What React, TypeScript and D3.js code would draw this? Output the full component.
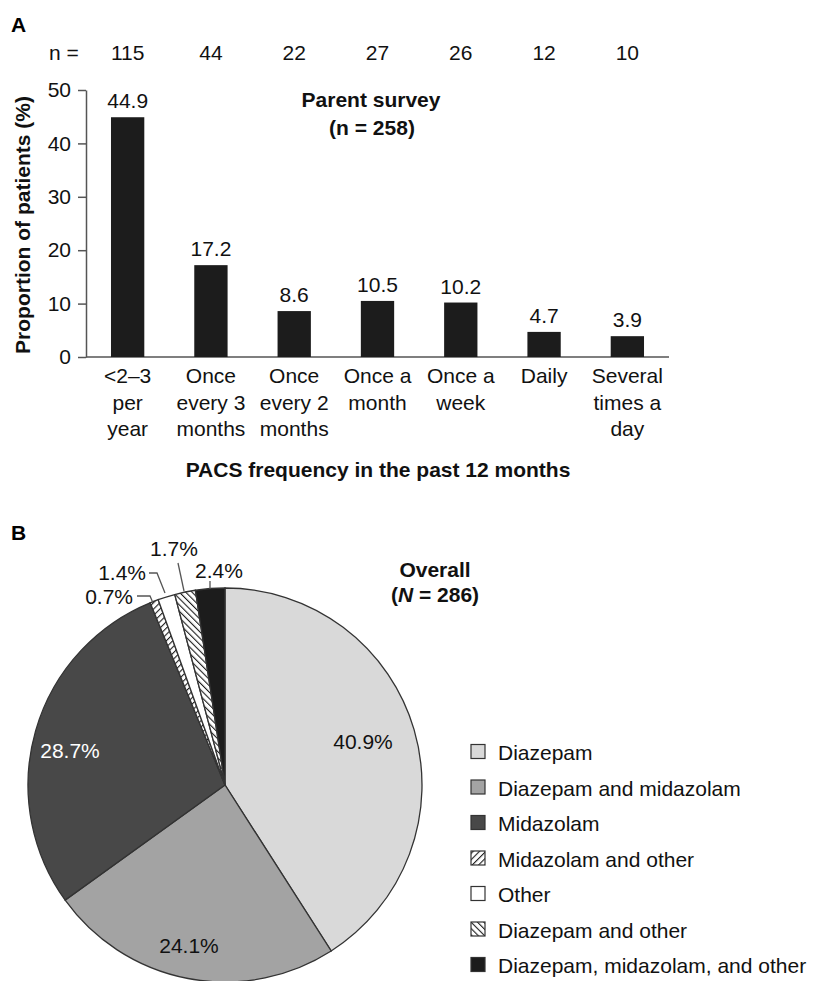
import React, { useEffect, useRef } from 'react';
import * as d3 from 'd3';

// panel A data
const categories = ['<2–3 per year', 'Once every 3 months', 'Once every 2 months', 'Once a month', 'Once a week', 'Daily', 'Several times a day'];
const categoryLines = [['<2–3', 'per', 'year'], ['Once', 'every 3', 'months'], ['Once', 'every 2', 'months'], ['Once a', 'month'], ['Once a', 'week'], ['Daily'], ['Several', 'times a', 'day']];
const proportions = [44.9, 17.2, 8.6, 10.5, 10.2, 4.7, 3.9];
const counts = [115, 44, 22, 27, 26, 12, 10];
const yTicks = [0, 10, 20, 30, 40, 50];

// panel B data
const drugs = ['Diazepam', 'Diazepam and midazolam', 'Midazolam', 'Midazolam and other', 'Other', 'Diazepam and other', 'Diazepam, midazolam, and other'];
const shares = [40.9, 24.1, 28.7, 0.7, 1.4, 1.7, 2.4];
const fills = ['#d9d9d9', '#a3a3a3', '#484848', 'url(#fwd)', '#ffffff', 'url(#bwd)', '#1c1c1c'];

const FONT = '"Liberation Sans", Arial, sans-serif';
const FS = 21;

const App = () => {
  const ref = useRef<SVGSVGElement>(null);

  useEffect(() => {
    const svg = d3.select(ref.current);
    svg.selectAll('*').remove();
    svg.style('font-family', FONT);

    // patterns for hatched slices
    const defs = svg.append('defs');
    const addHatch = (id: string, angle: number) => {
      const p = defs.append('pattern')
        .attr('id', id)
        .attr('patternUnits', 'userSpaceOnUse')
        .attr('width', 4.5)
        .attr('height', 4.5)
        .attr('patternTransform', `rotate(${angle})`);
      p.append('rect').attr('width', 4.5).attr('height', 4.5).attr('fill', '#fff');
      p.append('line').attr('x1', 0).attr('y1', 0).attr('x2', 0).attr('y2', 4.5)
        .attr('stroke', '#1c1c1c').attr('stroke-width', 2.2);
    };
    addHatch('fwd', 45);
    addHatch('bwd', -45);

    // ---------- panel A ----------
    svg.append('text').attr('x', 11).attr('y', 32).attr('font-size', FS).attr('font-weight', 'bold').text('A');

    const x = d3.scaleBand()
      .domain(categories)
      .range([86, 669])
      .paddingInner(0.6)
      .paddingOuter(0.3);

    const y = d3.scaleLinear()
      .domain([0, 50])
      .range([357, 90]);

    const yAxis = d3.axisLeft(y).tickValues(yTicks).tickSize(8).tickSizeOuter(0);
    const yAxisGroup = svg.append('g').attr('transform', 'translate(86,0)').call(yAxis);
    yAxisGroup.select('.domain').attr('stroke', '#555').attr('stroke-width', 1.5);
    yAxisGroup.selectAll('.tick line').attr('stroke', '#555').attr('stroke-width', 1.5);
    yAxisGroup.selectAll('.tick text')
      .attr('font-size', FS).attr('font-family', FONT).attr('fill', '#111').attr('x', -15);

    svg.append('line')
      .attr('x1', 86).attr('x2', 669).attr('y1', y(0)).attr('y2', y(0))
      .attr('stroke', '#555').attr('stroke-width', 1.5);

    svg.selectAll('rect.bar')
      .data(proportions)
      .enter()
      .append('rect')
      .attr('class', 'bar')
      .attr('x', (d, i) => x(categories[i]) as number)
      .attr('y', d => y(d))
      .attr('width', x.bandwidth())
      .attr('height', d => y(0) - y(d))
      .attr('fill', '#1c1c1c');

    const cx = (i: number) => (x(categories[i]) as number) + x.bandwidth() / 2;

    svg.selectAll('text.val')
      .data(proportions)
      .enter()
      .append('text')
      .attr('class', 'val')
      .attr('x', (d, i) => cx(i))
      .attr('y', d => y(d) - 9)
      .attr('text-anchor', 'middle')
      .attr('font-size', FS)
      .attr('fill', '#111')
      .text(d => d.toFixed(1));

    svg.append('text').attr('x', 49).attr('y', 60).attr('font-size', FS).attr('fill', '#111').text('n =');
    svg.selectAll('text.count')
      .data(counts)
      .enter()
      .append('text')
      .attr('class', 'count')
      .attr('x', (d, i) => cx(i))
      .attr('y', 60)
      .attr('text-anchor', 'middle')
      .attr('font-size', FS)
      .attr('fill', '#111')
      .text(d => d);

    categoryLines.forEach((lines, i) => {
      lines.forEach((ln, j) => {
        svg.append('text')
          .attr('x', cx(i))
          .attr('y', 383 + j * 26.5)
          .attr('text-anchor', 'middle')
          .attr('font-size', FS)
          .attr('fill', '#111')
          .text(ln);
      });
    });

    svg.append('text')
      .attr('transform', 'translate(30,225) rotate(-90)')
      .attr('text-anchor', 'middle')
      .attr('font-size', FS)
      .attr('font-weight', 'bold')
      .attr('fill', '#111')
      .text('Proportion of patients (%)');

    svg.append('text').attr('x', 378).attr('y', 477).attr('text-anchor', 'middle')
      .attr('font-size', FS).attr('font-weight', 'bold').attr('fill', '#111')
      .text('PACS frequency in the past 12 months');

    svg.append('text').attr('x', 371).attr('y', 107).attr('text-anchor', 'middle')
      .attr('font-size', FS).attr('font-weight', 'bold').attr('fill', '#111').text('Parent survey');
    svg.append('text').attr('x', 372).attr('y', 135).attr('text-anchor', 'middle')
      .attr('font-size', FS).attr('font-weight', 'bold').attr('fill', '#111').text('(n = 258)');

    // ---------- panel B ----------
    svg.append('text').attr('x', 11).attr('y', 540).attr('font-size', FS).attr('font-weight', 'bold').text('B');

    const pcx = 225, pcy = 785, r = 197;
    const pie = d3.pie<number>().sort(null).value(d => d);
    const arcs = pie(shares);
    const arc = d3.arc<d3.PieArcDatum<number>>().innerRadius(0).outerRadius(r);

    const pg = svg.append('g').attr('transform', `translate(${pcx},${pcy})`);
    pg.selectAll('path')
      .data(arcs)
      .enter()
      .append('path')
      .attr('d', arc)
      .attr('fill', (d, i) => fills[i])
      .attr('stroke', '#333')
      .attr('stroke-width', 1.3);

    // inner labels for the big slices
    const inner = [
      { i: 0, x: 363, y: 749, c: '#111' },
      { i: 2, x: 70, y: 758, c: '#fff' },
      { i: 1, x: 189, y: 953, c: '#111' },
    ];
    inner.forEach(l => {
      svg.append('text').attr('x', l.x).attr('y', l.y).attr('text-anchor', 'middle')
        .attr('font-size', FS).attr('fill', l.c).text(`${shares[l.i]}%`);
    });

    // small slices: outside labels with leader lines
    const outer = [
      { i: 3, tx: 133, ty: 604, pts: [[137, 596], [150, 596], [153, 603]] },
      { i: 4, tx: 146, ty: 580, pts: [[149, 573], [157, 573], [165, 593]] },
      { i: 5, tx: 174, ty: 556, pts: [[178, 563], [184, 591]] },
      { i: 6, tx: 219, ty: 578, pts: [[210, 581], [210, 589]] },
    ];
    outer.forEach(l => {
      svg.append('path')
        .attr('d', d3.line()(l.pts as [number, number][]))
        .attr('fill', 'none').attr('stroke', '#555').attr('stroke-width', 1.3);
      svg.append('text').attr('x', l.tx).attr('y', l.ty)
        .attr('text-anchor', l.i === 5 || l.i === 6 ? 'middle' : 'end')
        .attr('font-size', FS).attr('fill', '#111').text(`${shares[l.i]}%`);
    });

    svg.append('text').attr('x', 435).attr('y', 577).attr('text-anchor', 'middle')
      .attr('font-size', FS).attr('font-weight', 'bold').attr('fill', '#111').text('Overall');
    const nt = svg.append('text').attr('x', 435).attr('y', 602).attr('text-anchor', 'middle')
      .attr('font-size', FS).attr('font-weight', 'bold').attr('fill', '#111');
    nt.append('tspan').text('(');
    nt.append('tspan').attr('font-style', 'italic').text('N');
    nt.append('tspan').text(' = 286)');

    // legend
    const lg = svg.append('g');
    drugs.forEach((name, i) => {
      const ly = 752 + i * 35.5;
      lg.append('rect').attr('x', 471).attr('y', ly - 7.5).attr('width', 14).attr('height', 14)
        .attr('fill', fills[i]).attr('stroke', '#333').attr('stroke-width', 1.2);
      lg.append('text').attr('x', 498).attr('y', ly + 8).attr('font-size', 21).attr('fill', '#111').text(name);
    });
  }, []);

  return (
    <div className="canvas">
      <svg ref={ref} width={817} height={981} style={{ display: 'block', marginLeft: -8, marginTop: -8 }} />
    </div>
  );
};

export default App;
